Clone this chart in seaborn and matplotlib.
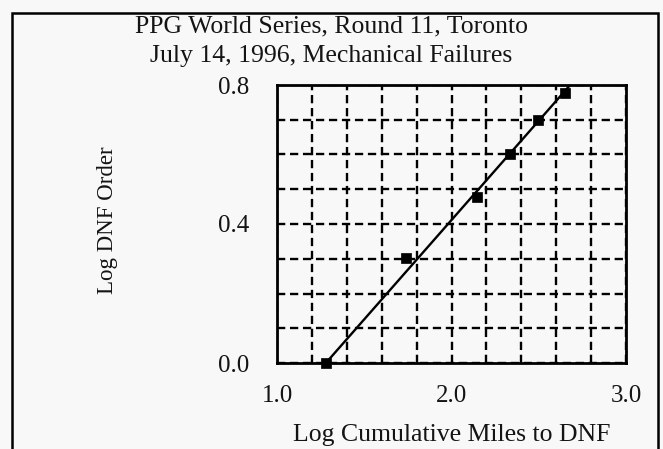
import matplotlib
matplotlib.use("Agg")
import matplotlib.pyplot as plt
import seaborn as sns
import numpy as np
import pandas as pd
from matplotlib.patches import Rectangle

# Data
log_miles = [1.279, 1.739, 2.144, 2.335, 2.494, 2.650]
log_order = [0.000, 0.301, 0.477, 0.602, 0.699, 0.778]
fit_x = [1.28, 2.68]
fit_y = [0.00, 0.80]

title_lines = ["PPG World Series, Round 11, Toronto", "July 14, 1996, Mechanical Failures"]
x_label = "Log Cumulative Miles to DNF"
y_label = "Log DNF Order"
x_tick_labels = ["1.0", "2.0", "3.0"]
y_tick_labels = ["0.0", "0.4", "0.8"]

sns.set_theme(style="white")
plt.rcParams['font.family'] = ['Liberation Serif', 'DejaVu Serif']

W, H = 663, 449
bg = "#f8f8f8"
ink = "#141414"

fig = plt.figure(figsize=(W/100, H/100), dpi=100)
fig.patch.set_facecolor(bg)
ax_l, ax_r, ax_t, ax_b = 277, 626, 85, 363
ax = fig.add_axes([ax_l/W, 1-ax_b/H, (ax_r-ax_l)/W, (ax_b-ax_t)/H])
ax.set_facecolor(bg)

pts = pd.DataFrame({"x": log_miles, "y": log_order})
fit = pd.DataFrame({"x": fit_x, "y": fit_y})

sns.lineplot(data=fit, x="x", y="y", ax=ax, color="black", linewidth=1.7, zorder=3)
sns.scatterplot(data=pts, x="x", y="y", ax=ax, marker="s", s=48, color="black",
                edgecolor="black", linewidth=0.5, zorder=4, clip_on=False)

ax.set_xlim(1.0, 3.0)
ax.set_ylim(0.0, 0.8)
ax.set_xticks([1.0, 2.0, 3.0])
ax.set_xticklabels(x_tick_labels)
ax.set_yticks([0.0, 0.4, 0.8])
ax.set_yticklabels(y_tick_labels)
ax.set_xticks(np.linspace(1.0, 3.0, 11), minor=True)
ax.set_yticks(np.linspace(0.0, 0.8, 9), minor=True)
ax.grid(True, which="both", color="black", linestyle=(0, (3.5, 2)), linewidth=1.7)
ax.tick_params(which="both", length=0, labelsize=18, colors=ink)
ax.tick_params(axis="x", pad=16)
ax.tick_params(axis="y", pad=20)
for s in ax.spines.values():
    s.set_visible(True)
    s.set_color("black")
    s.set_linewidth(2)

ax.set_xlabel(x_label, fontsize=18.5, color=ink)
ax.xaxis.set_label_coords(0.5, (ax_b-441)/(ax_b-ax_t))
ax.xaxis.label.set_va("baseline")
ax.set_ylabel(y_label, fontsize=16.5, color=ink)
ax.yaxis.set_label_coords((118-ax_l)/(ax_r-ax_l), 0.514)

fig.text(0.5, 1-32.7/H, title_lines[0], ha="center", va="baseline", fontsize=18.5, color=ink)
fig.text(0.5, 1-61.7/H, title_lines[1], ha="center", va="baseline", fontsize=18.5, color=ink)

fig.add_artist(Rectangle((12/W, -0.02), (658-12)/W, 1.02-13/H,
                         transform=fig.transFigure, fill=False, edgecolor="black",
                         linewidth=1.8))

fig.savefig("out.png", dpi=100, facecolor=fig.get_facecolor())
